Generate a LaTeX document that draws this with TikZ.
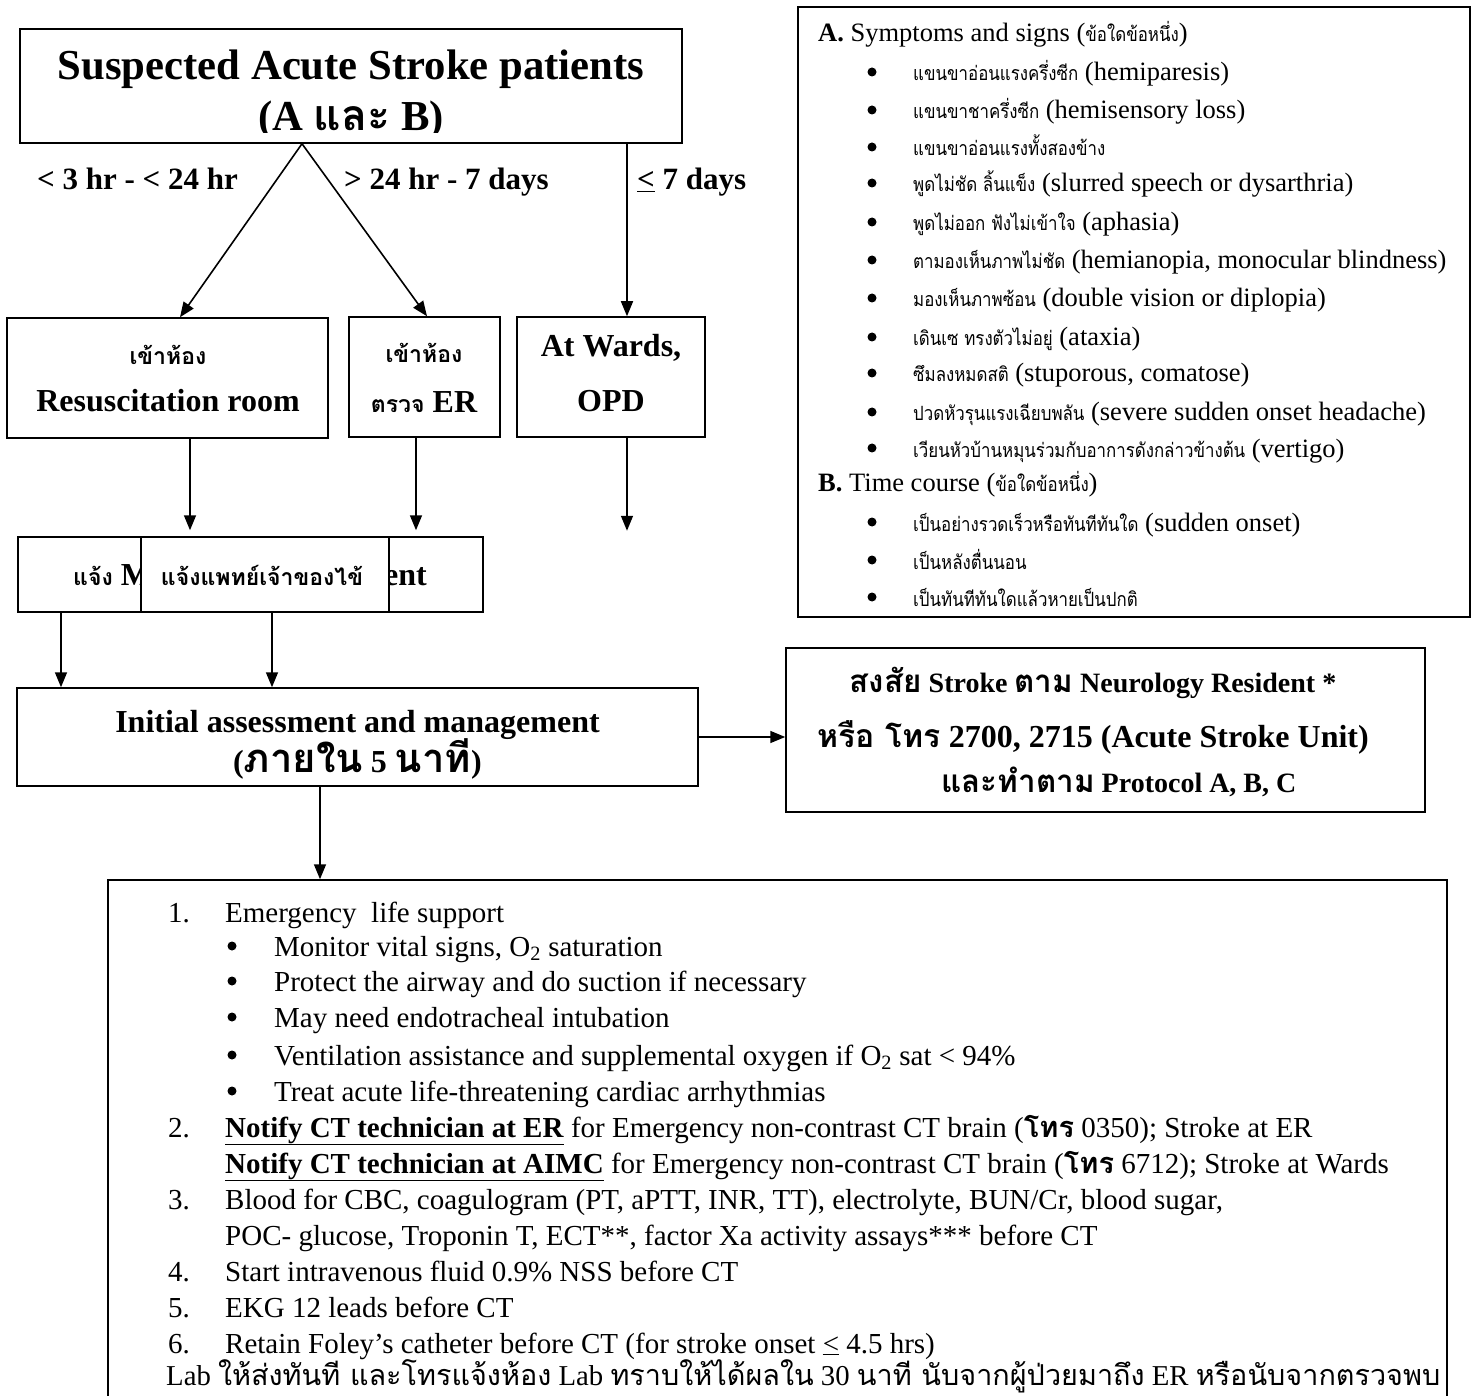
\documentclass[tikz,border=0pt]{standalone}
\usepackage{fontspec}
\usepackage{graphicx}
\setmainfont{Liberation Serif}
\newfontfamily\thS[Script=Thai,Scale=0.72]{Loma}
\newfontfamily\thA[Script=Thai,Scale=0.74,FakeStretch=0.86]{Loma}
\newfontfamily\thL[Script=Thai]{Loma}
\newfontfamily\thX[Script=Thai,Scale=1.12]{Loma}
\newcommand\thaism[1]{{\thS #1}}
\newcommand\thaiab[1]{{\thA #1}}
\newcommand\thaibg[1]{{\thL\bfseries #1}}
\newcommand\thaixl[1]{{\thX\bfseries #1}}
\newcommand\thairg[1]{{\thL #1}}
\usetikzlibrary{arrows.meta}
\begin{document}
\begin{tikzpicture}[x=1pt,y=-1pt,
  box/.style={draw, line width=1.5pt, inner sep=0pt, rectangle},
  arr/.style={-{Triangle[length=15pt,width=12pt]}, line width=1.6pt},
  t/.style={inner sep=0pt, anchor=base},
  tw/.style={inner sep=0pt, anchor=base west},
  te/.style={inner sep=0pt, anchor=base east},
  ab/.style={tw, font=\fontsize{26.5}{30}\selectfont},
  bt/.style={tw, font=\fontsize{29}{34}\selectfont},
  dot/.style={circle, fill=black, inner sep=0pt, minimum size=9pt},
  bx/.style={t, font=\fontsize{32}{36}\selectfont\bfseries},
  lbl/.style={tw, font=\fontsize{31}{36}\selectfont\bfseries},
]
\useasboundingbox (0,0) rectangle (1476,1396);

% ---------- boxes ----------
\node[box, minimum width=662pt, minimum height=114pt] (top) at (351,86) {};
\node[box, minimum width=321pt, minimum height=120pt] (resus) at (167.5,378) {};
\node[box, minimum width=151pt, minimum height=120pt] (er) at (424.5,377) {};
\node[box, minimum width=188pt, minimum height=120pt] (wards) at (611,377) {};
\node[box, minimum width=465pt, minimum height=75pt] (notify) at (250.5,574.5) {};
\node[box, minimum width=681pt, minimum height=98pt] (init) at (357.5,737) {};
\node[box, minimum width=639pt, minimum height=164pt] (thbox) at (1105.5,730) {};
\node[box, minimum width=672pt, minimum height=610pt] (abbox) at (1134,312) {};
\node[box, minimum width=1339pt, minimum height=540pt] (steps) at (777.5,1150) {};

% ---------- top box text ----------
\node[t, font=\fontsize{42.7}{48}\selectfont\bfseries] (title1) at (351,80) {Suspected Acute Stroke patients};
\begin{scope}
\clip (20,29) rectangle (682,133);
\node[t, font=\fontsize{42.7}{48}\selectfont\bfseries] (title2) at (351,131) {(A \thaibg{และ} B)};
\end{scope}

% ---------- branch labels ----------
\node[lbl] (l1) at (37,190) {< 3 hr - < 24 hr};
\node[lbl] (l2) at (344,190) {> 24 hr - 7 days};
\node[lbl] (l3) at (637,190) {\underline{<} 7 days};

% ---------- room boxes text ----------
\node[bx] (r1) at (168,365) {\thaism{เข้าห้อง}};
\node[bx] (r2) at (168,412) {Resuscitation room};
\node[bx] (e1) at (424,363) {\thaism{เข้าห้อง}};
\node[bx] (e2) at (424,413) {\thaism{ตรวจ} ER};
\node[bx] (w1) at (611,357) {At Wards,};
\node[bx] (w2) at (611,412) {OPD};

% ---------- notify box ----------
\node[tw, font=\fontsize{32}{36}\selectfont\bfseries] (n1) at (73,585) {\thaism{แจ้ง} M};
\node[te, font=\fontsize{32}{36}\selectfont\bfseries] (n2) at (427,585) {ent};
\node[box, fill=white, minimum width=248pt, minimum height=75pt] (notin) at (265,574.5) {};
\node[bx] (n3) at (262,585) {\thaism{แจ้งแพทย์เจ้าของไข้}};

% ---------- initial assessment ----------
\node[bx] (i1) at (357.5,732) {Initial assessment and management};
\node[bx] (i2) at (357.5,772) {({\fontsize{40}{44}\selectfont\thaibg{ภายใน}} 5 {\fontsize{40}{44}\selectfont\thaibg{นาที}})};

% ---------- Thai box ----------
\node[t, font=\fontsize{28}{32}\selectfont\bfseries] (s1) at (1093,692) {\thaixl{สงสัย} Stroke \thaixl{ตาม} Neurology Resident *};
\node[t, font=\fontsize{32}{36}\selectfont\bfseries] (s2) at (1093,747) {\thaibg{หรือ โทร} 2700, 2715 (Acute Stroke Unit)};
\node[t, font=\fontsize{28}{32}\selectfont\bfseries] (s3) at (1119,792) {\thaixl{และทำตาม} Protocol A, B, C};

% ---------- A/B list ----------
\node[ab] (a0) at (818,42) {\textbf{A.} Symptoms and signs (\thaiab{ข้อใดข้อหนึ่ง})};
\foreach \y/\txt [count=\i] in {
  81/{\thaiab{แขนขาอ่อนแรงครึ่งซีก} (hemiparesis)},
  119/{\thaiab{แขนขาชาครึ่งซีก} (hemisensory loss)},
  156/{\thaiab{แขนขาอ่อนแรงทั้งสองข้าง}},
  192/{\thaiab{พูดไม่ชัด ลิ้นแข็ง} (slurred speech or dysarthria)},
  231/{\thaiab{พูดไม่ออก ฟังไม่เข้าใจ} (aphasia)},
  269/{\thaiab{ตามองเห็นภาพไม่ชัด} (hemianopia, monocular blindness)},
  307/{\thaiab{มองเห็นภาพซ้อน} (double vision or diplopia)},
  346/{\thaiab{เดินเซ ทรงตัวไม่อยู่} (ataxia)},
  382/{\thaiab{ซึมลงหมดสติ} (stuporous, comatose)},
  421/{\thaiab{ปวดหัวรุนแรงเฉียบพลัน} (severe sudden onset headache)},
  457/{\thaiab{เวียนหัวบ้านหมุนร่วมกับอาการดังกล่าวข้างต้น} (vertigo)}} {
  \node[ab] (ab\i) at (913,\y) {\txt};
  \node[dot] (abb\i) at (872,\y-9) {};
}
\node[ab] (b0) at (818,492) {\textbf{B.} Time course (\thaiab{ข้อใดข้อหนึ่ง})};
\foreach \y/\txt [count=\i] in {
  531/{\thaiab{เป็นอย่างรวดเร็วหรือทันทีทันใด} (sudden onset)},
  569/{\thaiab{เป็นหลังตื่นนอน}},
  606/{\thaiab{เป็นทันทีทันใดแล้วหายเป็นปกติ}}} {
  \node[ab] (bb\i) at (913,\y) {\txt};
  \node[dot] (bbb\i) at (872,\y-9) {};
}

% ---------- steps box ----------
\node[bt] (k1) at (168,922) {1.};
\node[bt] (k1t) at (225,922) {Emergency\ \ life support};
\foreach \y/\txt [count=\i] in {
  956/{Monitor vital signs, O\textsubscript{2} saturation},
  991/{Protect the airway and do suction if necessary},
  1027/{May need endotracheal intubation},
  1065/{Ventilation assistance and supplemental oxygen if O\textsubscript{2} sat < 94\%},
  1101/{Treat acute life-threatening cardiac arrhythmias}} {
  \node[dot] (sb\i) at (232,\y-10) {};
  \node[bt] (st\i) at (274,\y) {\txt};
}
\node[bt] (k2) at (168,1137) {2.};
\node[bt] (k2t) at (225,1137) {\underline{\textbf{Notify CT technician at ER}} for Emergency non-contrast CT brain (\thaibg{โทร} 0350); Stroke at ER};
\node[bt] (k2u) at (225,1173) {\underline{\textbf{Notify CT technician at AIMC}} for Emergency non-contrast CT brain (\thaibg{โทร} 6712); Stroke at Wards};
\node[bt] (k3) at (168,1209) {3.};
\node[bt] (k3t) at (225,1209) {Blood for CBC, coagulogram (PT, aPTT, INR, TT), electrolyte, BUN/Cr, blood sugar,};
\node[bt] (k3u) at (225,1245) {POC- glucose, Troponin T, ECT**, factor Xa activity assays*** before CT};
\node[bt] (k4) at (168,1281) {4.};
\node[bt] (k4t) at (225,1281) {Start intravenous fluid 0.9\% NSS before CT};
\node[bt] (k5) at (168,1317) {5.};
\node[bt] (k5t) at (225,1317) {EKG 12 leads before CT};
\node[bt] (k6) at (168,1353) {6.};
\node[bt] (k6t) at (225,1353) {Retain Foley’s catheter before CT (for stroke onset \underline{<} 4.5 hrs)};
\node[bt] (k7) at (166,1385) {\resizebox{1274pt}{!}{Lab \thairg{ให้ส่งทันที และโทรแจ้งห้อง} Lab \thairg{ทราบให้ได้ผลใน} 30 \thairg{นาที นับจากผู้ป่วยมาถึง} ER \thairg{หรือนับจากตรวจพบ}}};

% ---------- connectors ----------
\coordinate (apex) at ([xshift=-49pt]top.south);
\draw[arr] (apex) -- ([xshift=12.5pt]resus.north);
\draw[arr] (apex) -- ([xshift=2.5pt]er.north);
\draw[arr] ([xshift=276pt]top.south) -- ([xshift=16pt]wards.north);
\draw[arr] ([xshift=22.5pt]resus.south) -- ([xshift=-60.5pt,yshift=6pt]notify.north);
\draw[arr] ([xshift=-8.5pt]er.south) -- ([xshift=165.5pt,yshift=6pt]notify.north);
\coordinate (wend) at ([xshift=16pt,yshift=-93pt]wards.south);
\draw[arr] ([xshift=16pt]wards.south) -- (wend);
\draw[arr] ([xshift=-189.5pt]notify.south) -- ([xshift=-296.5pt]init.north);
\draw[arr] ([xshift=21.5pt]notify.south) -- ([xshift=-85.5pt]init.north);
\draw[arr] (init.east) -- (init.east -| thbox.west);
\draw[arr] ([xshift=-37.5pt]init.south) -- ([xshift=-457.5pt]steps.north);
\end{tikzpicture}
\end{document}
